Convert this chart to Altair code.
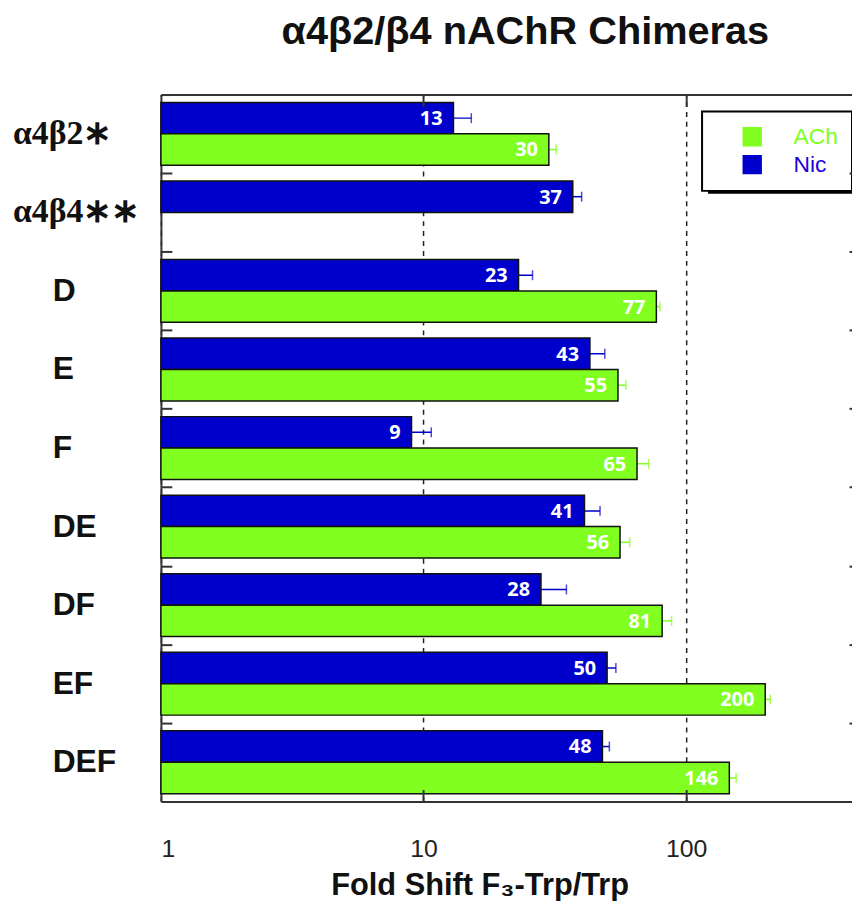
import altair as alt
import pandas as pd

# ---- data ----
groups = ["α4β2∗", "α4β4∗∗", "D", "E", "F", "DE", "DF", "EF", "DEF"]
nic = [13, 37, 23, 43, 9, 41, 28, 50, 48]
nic_err = [2.2, 3, 3, 6, 1.7, 6, 7, 4, 3]
ach = [30, None, 77, 55, 65, 56, 81, 200, 146]
ach_err = [2, None, 2.5, 4, 7, 5, 7, 9, 9]
series_names = ["ACh", "Nic"]
x_ticks = [1, 10, 100]

rows = []
for g, v, e in zip(groups, nic, nic_err):
    rows.append({"group": g, "series": "Nic", "value": v, "err": e})
for g, v, e in zip(groups, ach, ach_err):
    if v is not None:
        rows.append({"group": g, "series": "ACh", "value": v, "err": e})
df = pd.DataFrame(rows)
df["lo"] = df["value"] - df["err"]
df["hi"] = df["value"] + df["err"]
df["label"] = df["value"].astype(int).astype(str)

cat_df = pd.DataFrame({"group": groups})

xscale = alt.Scale(type="log", domain=[1, 428], nice=False)
yscale = alt.Scale(domain=groups, paddingInner=0.2, paddingOuter=0.1)
yoff = alt.YOffset("series:N", scale=alt.Scale(domain=["Nic", "ACh"], paddingInner=0, paddingOuter=0))
color_scale = alt.Scale(domain=series_names, range=["#80ff20", "#0000cc"])

legend = alt.Legend(orient="none", legendX=545, legendY=17, title=None,
                    padding=14, symbolOffset=25, symbolSize=324,
                    symbolType="square", symbolStrokeColor="black",
                    symbolStrokeWidth=1.5, symbolOpacity=1,
                    labelFont="Liberation Sans", labelFontSize=23,
                    labelOffset=30, rowPadding=3,
                    labelColor={"expr": "datum.label === 'ACh' ? '#80ff20' : '#2200dd'"},
                    fillColor="white", strokeColor="black")
color = alt.Color("series:N", scale=color_scale, legend=legend)

base = alt.Chart(df)

tick_axis_common = dict(domain=False, labels=False, ticks=True, grid=False, title=None,
                        tickColor="#333333", tickWidth=2, zindex=1)

# legend shadow (decoration)
shadow = alt.Chart(pd.DataFrame({"a": [0]})).mark_rect(color="black").encode(
    x=alt.value(551), x2=alt.value(698), y=alt.value(24), y2=alt.value(100)
)

# error bars (behind bars)
err_rule = base.mark_rule(strokeWidth=1.5).encode(
    x=alt.X("lo:Q", scale=xscale,
            axis=alt.Axis(orient="top", domain=True, domainColor="#333333", domainWidth=2,
                          labels=False, ticks=False, grid=False, title=None)),
    x2="hi:Q",
    y=alt.Y("group:N", scale=yscale,
            axis=alt.Axis(orient="right", offset=-3, tickSize=3, bandPosition=0, tickOffset=-8,
                          **tick_axis_common)),
    yOffset=yoff,
    color=color,
)
err_cap = base.mark_tick(size=10, thickness=1.5).encode(
    x=alt.X("hi:Q", scale=xscale,
            axis=alt.Axis(orient="bottom", offset=-12, tickSize=12, values=[10, 100], **tick_axis_common)),
    y=alt.Y("group:N", scale=yscale,
            axis=alt.Axis(orient="left", offset=-11, tickSize=11, bandPosition=0, tickOffset=-8,
                          **tick_axis_common)),
    yOffset=yoff,
    color=color,
)

bars = base.mark_bar(stroke="#111111", strokeWidth=1.5, opacity=1).encode(
    x=alt.X("value:Q", scale=xscale,
            axis=alt.Axis(orient="bottom", values=x_ticks, format="d", ticks=False,
                          domain=True, domainColor="#333333", domainWidth=2,
                          grid=True, gridDash=[5, 5], gridColor="#222222", gridWidth=1.5,
                          labelFont="Liberation Sans", labelFontSize=25, labelColor="#222222",
                          labelPadding=35,
                          title="Fold Shift F₃-Trp/Trp", titleFont="Liberation Sans",
                          titleFontSize=31, titleFontWeight="bold", titleColor="#111111",
                          titlePadding=10, titleX=321, titleAlign="center")),
    x2=alt.datum(1),
    y=alt.Y("group:N", scale=yscale,
            axis=alt.Axis(orient="left", ticks=False, labels=False, domain=True,
                          domainColor="#333333", domainWidth=2, grid=False, title=None)),
    yOffset=yoff,
    color=color,
)

labels = base.mark_text(align="right", baseline="middle", dx=-11, dy=1, color="white",
                        font="Open Sans", fontSize=20, fontWeight="bold").encode(
    x=alt.X("value:Q", scale=xscale,
            axis=alt.Axis(orient="top", offset=-12, tickSize=12, values=[10, 100], **tick_axis_common)),
    y=alt.Y("group:N", scale=yscale, axis=None),
    yOffset=yoff,
    text="label:N",
)

# category labels (left of the plot)
cat_greek = alt.Chart(cat_df).transform_filter("indexof(datum.group, 'α') >= 0").mark_text(
    align="left", baseline="middle", font="Liberation Serif", fontSize=34,
    fontWeight="bold", color="#111111"
).encode(
    x=alt.value(-149),
    y=alt.Y("group:N", scale=yscale, axis=None),
    text="group:N",
)
cat_sans = alt.Chart(cat_df).transform_filter("indexof(datum.group, 'α') < 0").mark_text(
    align="left", baseline="middle", font="Liberation Sans", fontSize=32,
    fontWeight="bold", color="#111111"
).encode(
    x=alt.value(-109),
    y=alt.Y("group:N", scale=yscale, axis=None),
    text="group:N",
)

chart = alt.layer(shadow, err_rule, err_cap, bars, labels, cat_greek, cat_sans).resolve_scale(
    x="independent", y="independent"
).properties(
    width=696,
    height=712,
    autosize=alt.AutoSizeParams(type="none"),
    padding={"left": 154, "top": 84, "right": 0, "bottom": 97},
    title=alt.TitleParams("α4β2/β4 nAChR Chimeras", font="Liberation Sans", fontSize=40,
                          fontWeight="bold", color="#111111", anchor="middle", dx=19,
                          baseline="alphabetic", offset=10),
).configure_view(stroke=None).configure_legend(strokeWidth=2)

chart.save("out.html", embed_options={"renderer": "svg", "actions": False})
